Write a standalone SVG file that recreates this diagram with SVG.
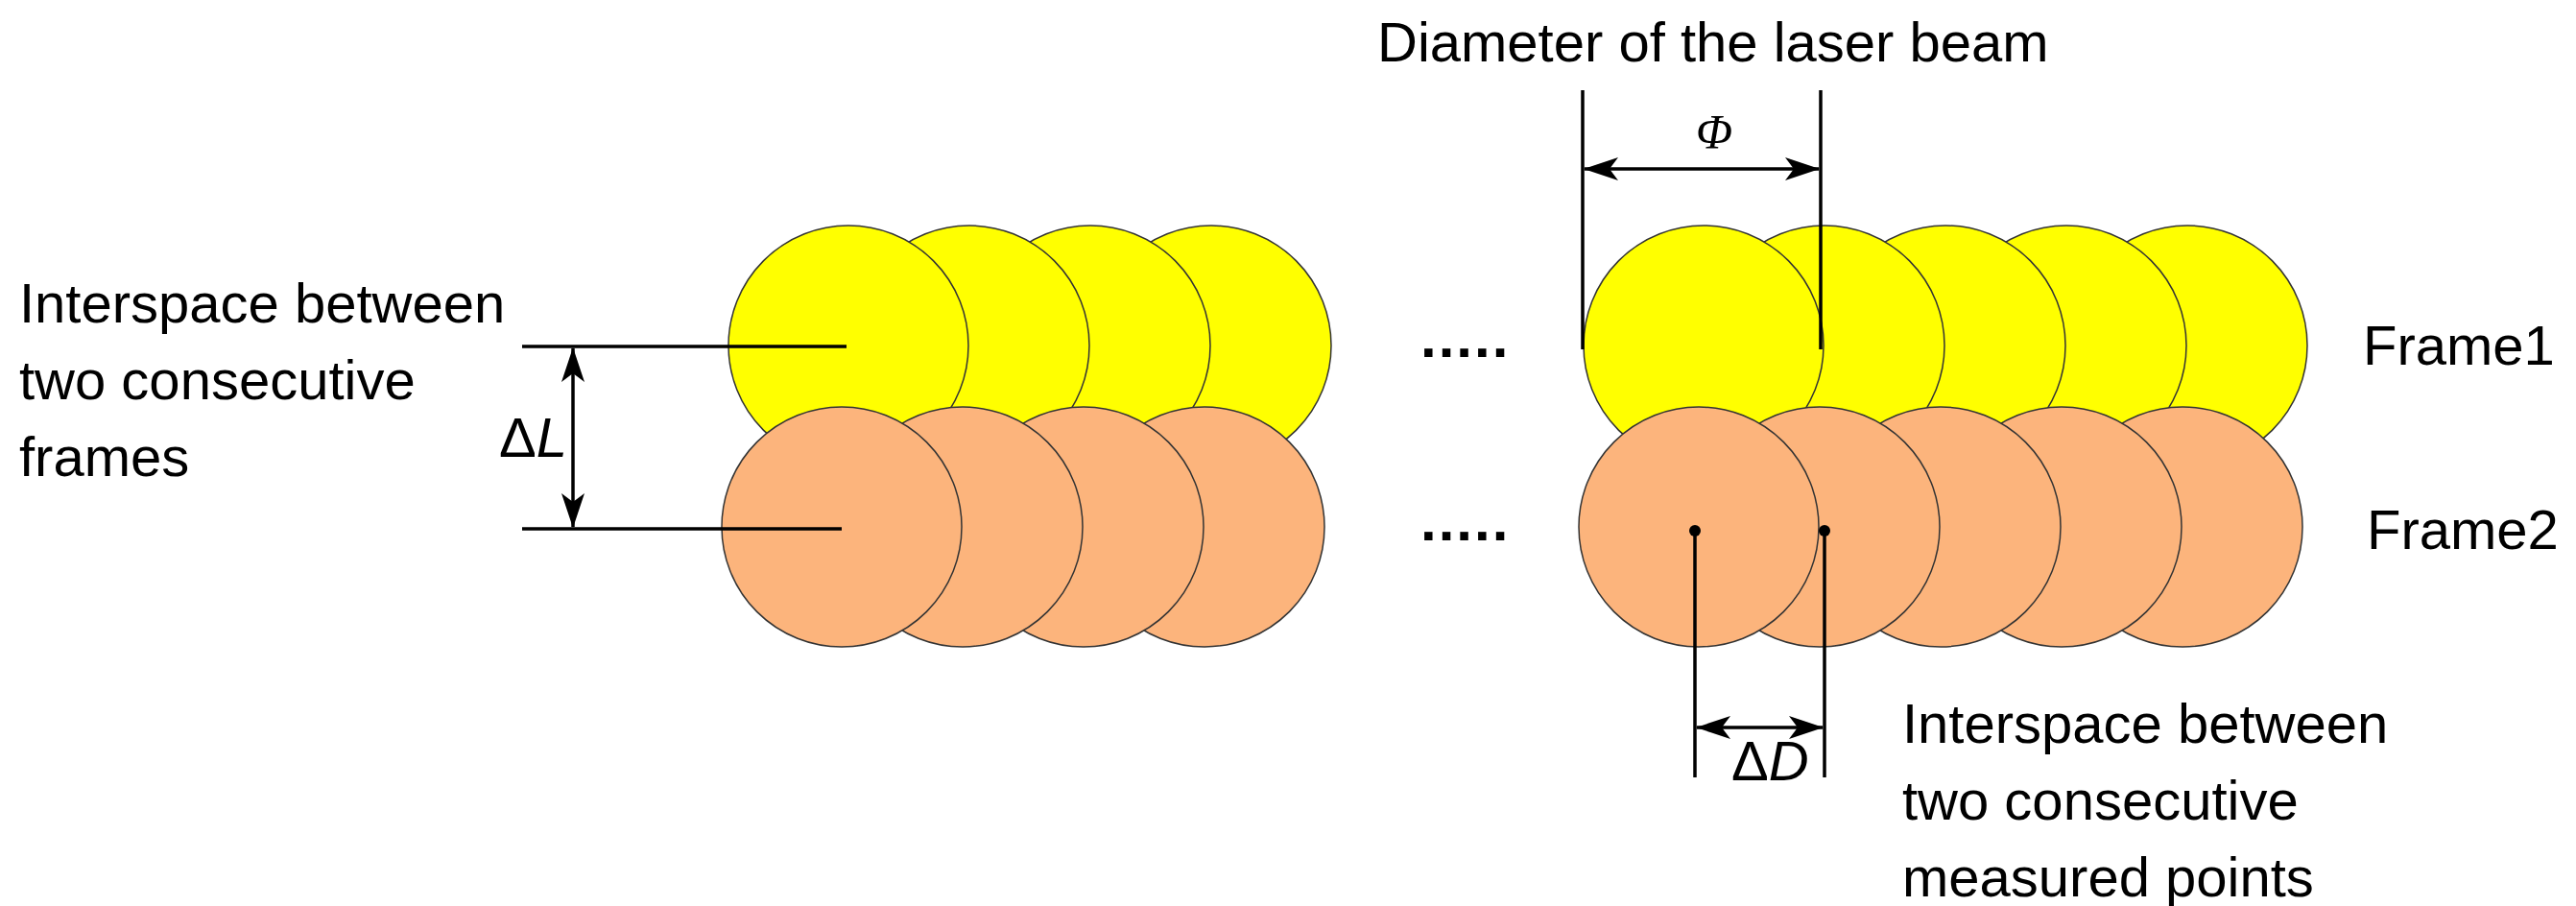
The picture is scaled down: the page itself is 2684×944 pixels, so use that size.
<svg xmlns="http://www.w3.org/2000/svg" width="2684" height="944" viewBox="0 0 2684 944">
<style>
.y{fill:#FFFF00;stroke:#333;stroke-width:1.5}
.o{fill:#FCB47C;stroke:#333;stroke-width:1.5}
.ln{stroke:#000;stroke-width:3.5;fill:none}
.t{font-family:"Liberation Sans",Arial,sans-serif;font-size:58px;fill:#000}
.dots{font-family:"Liberation Sans",Arial,sans-serif;font-size:60px;font-weight:bold;fill:#000;letter-spacing:2px}
</style>
<defs>
<marker id="ah" viewBox="0 0 36 24" refX="35" refY="12" markerWidth="36" markerHeight="24" markerUnits="userSpaceOnUse" orient="auto-start-reverse">
<path d="M0,0 L36,12 L0,24 L9,12 Z" fill="#000"/>
</marker>
</defs>
<g id="frame1-left">
<circle class="y" cx="1262" cy="360" r="125"/><circle class="y" cx="1136" cy="360" r="125"/><circle class="y" cx="1010" cy="360" r="125"/><circle class="y" cx="884" cy="360" r="125"/>
</g>
<g id="frame2-left">
<circle class="o" cx="1255" cy="549" r="125"/><circle class="o" cx="1129" cy="549" r="125"/><circle class="o" cx="1003" cy="549" r="125"/><circle class="o" cx="877" cy="549" r="125"/>
</g>
<g id="frame1-right">
<circle class="y" cx="2279" cy="360" r="125"/><circle class="y" cx="2153" cy="360" r="125"/><circle class="y" cx="2027" cy="360" r="125"/><circle class="y" cx="1901" cy="360" r="125"/><circle class="y" cx="1775" cy="360" r="125"/>
</g>
<g id="frame2-right">
<circle class="o" cx="2274" cy="549" r="125"/><circle class="o" cx="2148" cy="549" r="125"/><circle class="o" cx="2022" cy="549" r="125"/><circle class="o" cx="1896" cy="549" r="125"/><circle class="o" cx="1770" cy="549" r="125"/>
</g>
<g id="connectors">
<line class="ln" x1="544" y1="361" x2="882" y2="361"/>
<line class="ln" x1="544" y1="551" x2="877" y2="551"/>
<line class="ln" x1="597" y1="363" x2="597" y2="549" marker-start="url(#ah)" marker-end="url(#ah)"/>
<line class="ln" x1="1649" y1="94" x2="1649" y2="364"/>
<line class="ln" x1="1897" y1="94" x2="1897" y2="364"/>
<line class="ln" x1="1651" y1="176" x2="1895" y2="176" marker-start="url(#ah)" marker-end="url(#ah)"/>
<line class="ln" x1="1766" y1="553" x2="1766" y2="810"/>
<line class="ln" x1="1901" y1="553" x2="1901" y2="810"/>
<line class="ln" x1="1768" y1="758" x2="1899" y2="758" marker-start="url(#ah)" marker-end="url(#ah)"/>
<circle cx="1766" cy="553" r="6" fill="#000"/>
<circle cx="1901" cy="553" r="6" fill="#000"/>
</g>
<g id="labels">
<text class="t" x="1435" y="64">Diameter of the laser beam</text>
<text x="1786" y="154" font-family="Liberation Serif,serif" font-style="italic" font-size="50" text-anchor="middle">Φ</text>
<text class="t" x="20" y="336">Interspace between</text>
<text class="t" x="20" y="416">two consecutive</text>
<text class="t" x="20" y="496">frames</text>
<text class="t" x="520" y="476" font-size="42">Δ<tspan font-style="italic">L</tspan></text>
<text class="t" x="1804" y="813" font-size="46">Δ<tspan font-style="italic">D</tspan></text>
<text class="t" x="2462" y="380">Frame1</text>
<text class="t" x="2466" y="572">Frame2</text>
<text class="t" x="1982" y="774">Interspace between</text>
<text class="t" x="1982" y="854">two consecutive</text>
<text class="t" x="1982" y="934">measured points</text>
<text class="dots" x="1480" y="372">.....</text>
<text class="dots" x="1480" y="563">.....</text>
</g>
</svg>
